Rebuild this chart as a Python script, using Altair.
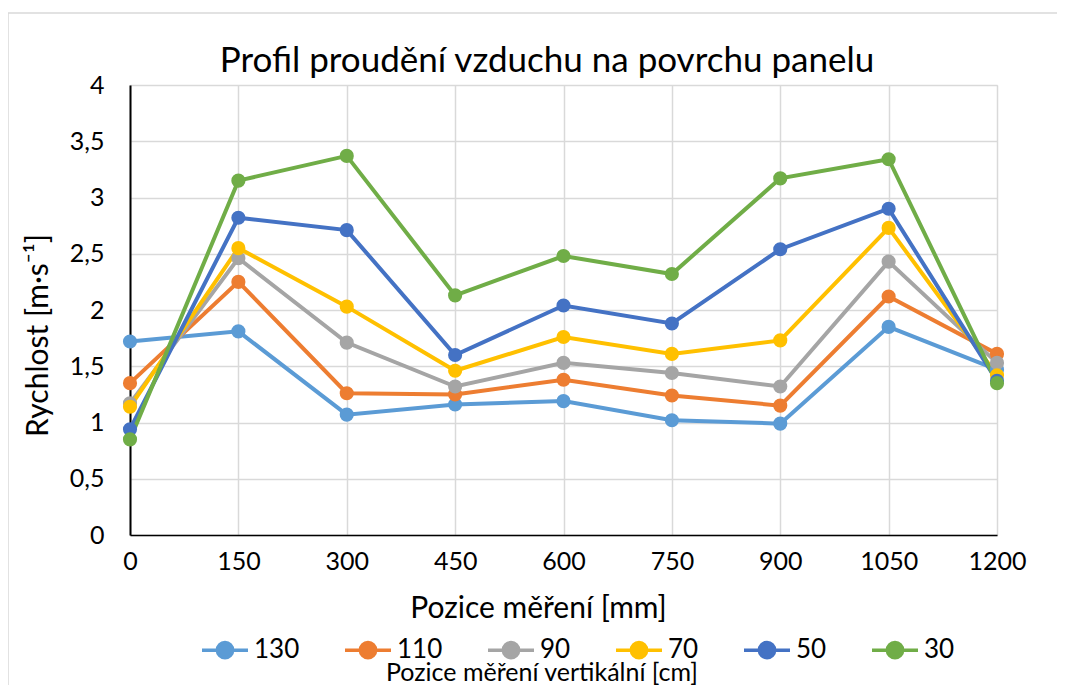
import altair as alt
import pandas as pd

positions = [0, 150, 300, 450, 600, 750, 900, 1050, 1200]
series_names = ["130", "110", "90", "70", "50", "30"]
colors = ["#5B9BD5", "#ED7D31", "#A5A5A5", "#FFC000", "#4472C4", "#70AD47"]

v130 = [1.72, 1.81, 1.07, 1.16, 1.19, 1.02, 0.99, 1.85, 1.47]
v110 = [1.35, 2.25, 1.26, 1.25, 1.38, 1.24, 1.15, 2.12, 1.61]
v90 = [1.17, 2.46, 1.71, 1.32, 1.53, 1.44, 1.32, 2.43, 1.53]
v70 = [1.14, 2.55, 2.03, 1.46, 1.76, 1.61, 1.73, 2.73, 1.42]
v50 = [0.94, 2.82, 2.71, 1.60, 2.04, 1.88, 2.54, 2.90, 1.37]
v30 = [0.85, 3.15, 3.37, 2.13, 2.48, 2.32, 3.17, 3.34, 1.35]

chart_title = "Profil proudění vzduchu na povrchu panelu"
x_title = "Pozice měření [mm]"
y_title = "Rychlost [m·s⁻¹]"
legend_title_text = "Pozice měření vertikální  [cm]"

rows = []
for i, (name, vals) in enumerate(zip(series_names, [v130, v110, v90, v70, v50, v30])):
    for p, v in zip(positions, vals):
        rows.append({"pos": p, "val": v, "series": name, "ord": i})
df = pd.DataFrame(rows)

FONT = "Lato"

color = alt.Color(
    "series:N",
    scale=alt.Scale(domain=series_names, range=colors),
    sort=series_names,
    legend=alt.Legend(
        title=None,
        orient="none",
        legendX=70,
        legendY=540,
        direction="horizontal",
        columns=6,
        symbolType="M-1,0H-0.33M0.33,0H1M-0.33,0A0.33,0.33 0 1,1 0.33,0A0.33,0.33 0 1,1 -0.33,0Z",
        symbolSize=2116,
        symbolStrokeWidth=3.5,
        labelFontSize=26,
        labelFont=FONT,
        labelColor="#000000",
        columnPadding=38,
        labelOffset=4,
    ),
)

base = alt.Chart(df)

lines = base.mark_line(strokeWidth=4, point=alt.OverlayMarkDef(filled=True, size=200, opacity=1)).encode(
    x=alt.X(
        "pos:Q",
        scale=alt.Scale(domain=[0, 1200], nice=False, zero=False),
        axis=alt.Axis(
            values=positions,
            format="d",
            title=x_title,
            titleFontSize=30,
            titleFont=FONT,
            titleFontWeight="normal",
            titleColor="#000000",
            titleX=408,
            titleY=73,
            titleAlign="center",
            titleBaseline="middle",
            labelFontSize=25,
            labelFont=FONT,
            labelColor="#000000",
            labelPadding=14,
            labelFlush=False,
            labelOverlap=False,
            ticks=False,
            domain=True,
            domainColor="#000000",
            domainWidth=1.5,
            grid=True,
            gridColor="#D9D9D9",
            gridWidth=1.5,
        ),
    ),
    y=alt.Y(
        "val:Q",
        scale=alt.Scale(domain=[0, 4], nice=False),
        axis=alt.Axis(
            values=[0, 0.5, 1, 1.5, 2, 2.5, 3, 3.5, 4],
            labelExpr="replace(format(datum.value, ''), '.', ',')",
            title=y_title,
            titleFontSize=30,
            titleFont=FONT,
            titleFontWeight="normal",
            titleColor="#000000",
            titleX=-92,
            titleY=250,
            titleAngle=270,
            titleAlign="center",
            titleBaseline="middle",
            labelFontSize=25,
            labelFont=FONT,
            labelColor="#000000",
            labelPadding=26,
            labelFlush=False,
            ticks=False,
            domain=True,
            domainColor="#000000",
            domainWidth=2,
            grid=True,
            gridColor="#D9D9D9",
            gridWidth=1.5,
        ),
    ),
    color=color,
    order="pos:Q",
    detail="ord:N",
)

legend_title = alt.Chart(pd.DataFrame({"t": [legend_title_text]})).mark_text(
    fontSize=25, font=FONT, color="#000000", align="center", baseline="middle"
).encode(text="t:N", x=alt.value(412), y=alt.value(588))

title_text = alt.Chart(pd.DataFrame({"t": [chart_title]})).mark_text(
    fontSize=35, font=FONT, color="#000000", align="center", baseline="middle"
).encode(text="t:N", x=alt.value(417), y=alt.value(-24))

border = alt.Chart(pd.DataFrame({"a": [0]})).mark_rect(
    fill=None, stroke="#D9D9D9", strokeWidth=1.5, clip=False
).encode(x=alt.value(-122), x2=alt.value(936), y=alt.value(-72), y2=alt.value(640))

chart = alt.layer(border, lines, legend_title, title_text).properties(
    width=867,
    height=450,
    autosize=alt.AutoSizeParams(type="none"),
    padding={"left": 122, "top": 77, "right": 60, "bottom": 150},
).configure_view(stroke=None).configure(background="#FFFFFF")

chart.save("out.html", embed_options={"renderer": "svg", "actions": False})
